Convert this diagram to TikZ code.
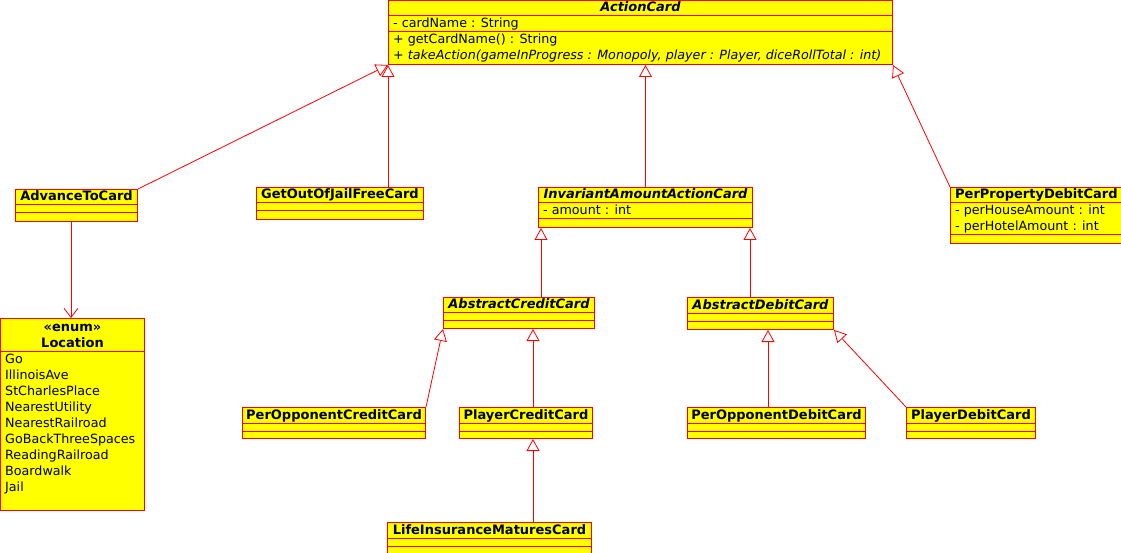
\documentclass[tikz,border=0pt]{standalone}
\usepackage{fontspec}
\setmainfont{DejaVu Sans}
\usetikzlibrary{arrows.meta,calc}
\definecolor{cyel}{RGB}{255,255,0}
\definecolor{cred}{RGB}{255,0,0}
\begin{document}
\begin{tikzpicture}[x=1pt,y=-1pt,
  font=\fontsize{12.7}{16}\selectfont,
  box/.style={draw=cred, fill=cyel, line width=1pt, inner sep=0pt, anchor=north west},
  sepl/.style={draw=cred, line width=1pt},
  ttl/.style={anchor=base, inner sep=0pt, font=\fontsize{13}{16}\selectfont\bfseries},
  attl/.style={anchor=base, inner sep=0pt, font=\fontsize{13}{16}\selectfont\bfseries\itshape},
  txt/.style={anchor=base west, inner sep=0pt},
  inh/.style={draw=cred, line width=0.8pt, -{Triangle[open, length=12pt, width=13pt, fill=white]}},
  assoc/.style={draw=cred, line width=0.8pt, -{Straight Barb[length=9pt, width=14pt]}}
]
\useasboundingbox (0,0) rectangle (1121,553);

% ActionCard
\node[box, minimum width=504pt, minimum height=64pt] (ac) at (388,0) {};
\draw[sepl] ($(ac.north west)+(0,16)$) -- ($(ac.north east)+(0,16)$);
\draw[sepl] ($(ac.north west)+(0,32)$) -- ($(ac.north east)+(0,32)$);
\node[attl] (acT) at ($(ac.north)+(0,12)$) {ActionCard};
\node[txt] (acA) at ($(ac.north west)+(5,28)$) {- cardName : String};
\node[txt] (acM1) at ($(ac.north west)+(5,44)$) {+ getCardName() : String};
\node[txt] (acM2) at ($(ac.north west)+(5,60)$) {\itshape + takeAction(gameInProgress : Monopoly, player : Player, diceRollTotal : int)};

% AdvanceToCard
\node[box, minimum width=122pt, minimum height=32pt] (adv) at (15,189) {};
\draw[sepl] ($(adv.north west)+(0,16)$) -- ($(adv.north east)+(0,16)$);
\draw[sepl] ($(adv.north west)+(0,24)$) -- ($(adv.north east)+(0,24)$);
\node[ttl] (advT) at ($(adv.north)+(0,12)$) {AdvanceToCard};

% GetOutOfJailFreeCard
\node[box, minimum width=167pt, minimum height=32pt] (goj) at (256,187) {};
\draw[sepl] ($(goj.north west)+(0,16)$) -- ($(goj.north east)+(0,16)$);
\draw[sepl] ($(goj.north west)+(0,24)$) -- ($(goj.north east)+(0,24)$);
\node[ttl] (gojT) at ($(goj.north)+(0,12)$) {GetOutOfJailFreeCard};

% InvariantAmountActionCard
\node[box, minimum width=214pt, minimum height=40pt] (inv) at (538,187) {};
\draw[sepl] ($(inv.north west)+(0,16)$) -- ($(inv.north east)+(0,16)$);
\draw[sepl] ($(inv.north west)+(0,32)$) -- ($(inv.north east)+(0,32)$);
\node[attl] (invT) at ($(inv.north)+(0,12)$) {InvariantAmountActionCard};
\node[txt] (invA) at ($(inv.north west)+(5,28)$) {- amount : int};

% PerPropertyDebitCard
\node[box, minimum width=176pt, minimum height=56pt] (ppd) at (950,187) {};
\draw[sepl] ($(ppd.north west)+(0,16)$) -- ($(ppd.north east)+(0,16)$);
\draw[sepl] ($(ppd.north west)+(0,48)$) -- ($(ppd.north east)+(0,48)$);
\node[ttl, anchor=base west] (ppdT) at ($(ppd.north west)+(5,12)$) {PerPropertyDebitCard};
\node[txt] (ppdA1) at ($(ppd.north west)+(5,28)$) {- perHouseAmount : int};
\node[txt] (ppdA2) at ($(ppd.north west)+(5,44)$) {- perHotelAmount : int};

% Location
\node[box, minimum width=144pt, minimum height=192pt] (loc) at (0,318) {};
\draw[sepl] ($(loc.north west)+(0,33)$) -- ($(loc.north east)+(0,33)$);
\node[ttl] (locS) at ($(loc.north)+(0,13)$) {«enum»};
\node[ttl] (locT) at ($(loc.north)+(0,29)$) {Location};
\node[txt] (l1) at ($(loc.north west)+(5,45)$) {Go};
\node[txt] (l2) at ($(loc.north west)+(5,61)$) {IllinoisAve};
\node[txt] (l3) at ($(loc.north west)+(5,77)$) {StCharlesPlace};
\node[txt] (l4) at ($(loc.north west)+(5,93)$) {NearestUtility};
\node[txt] (l5) at ($(loc.north west)+(5,109)$) {NearestRailroad};
\node[txt] (l6) at ($(loc.north west)+(5,125)$) {GoBackThreeSpaces};
\node[txt] (l7) at ($(loc.north west)+(5,141)$) {ReadingRailroad};
\node[txt] (l8) at ($(loc.north west)+(5,157)$) {Boardwalk};
\node[txt] (l9) at ($(loc.north west)+(5,173)$) {Jail};

% AbstractCreditCard
\node[box, minimum width=151pt, minimum height=31pt] (acc) at (443,297) {};
\draw[sepl] ($(acc.north west)+(0,15)$) -- ($(acc.north east)+(0,15)$);
\draw[sepl] ($(acc.north west)+(0,23)$) -- ($(acc.north east)+(0,23)$);
\node[attl] (accT) at ($(acc.north)+(0,11)$) {AbstractCreditCard};

% AbstractDebitCard
\node[box, minimum width=146pt, minimum height=32pt] (adc) at (687,297) {};
\draw[sepl] ($(adc.north west)+(0,16)$) -- ($(adc.north east)+(0,16)$);
\draw[sepl] ($(adc.north west)+(0,24)$) -- ($(adc.north east)+(0,24)$);
\node[attl] (adcT) at ($(adc.north)+(0,12)$) {AbstractDebitCard};

% PerOpponentCreditCard
\node[box, minimum width=183pt, minimum height=31pt] (poc) at (242,407) {};
\draw[sepl] ($(poc.north west)+(0,16)$) -- ($(poc.north east)+(0,16)$);
\draw[sepl] ($(poc.north west)+(0,24)$) -- ($(poc.north east)+(0,24)$);
\node[ttl] (pocT) at ($(poc.north)+(0,12)$) {PerOpponentCreditCard};

% PlayerCreditCard
\node[box, minimum width=133pt, minimum height=31pt] (pcc) at (459,407) {};
\draw[sepl] ($(pcc.north west)+(0,16)$) -- ($(pcc.north east)+(0,16)$);
\draw[sepl] ($(pcc.north west)+(0,24)$) -- ($(pcc.north east)+(0,24)$);
\node[ttl] (pccT) at ($(pcc.north)+(0,12)$) {PlayerCreditCard};

% PerOpponentDebitCard
\node[box, minimum width=178pt, minimum height=31pt] (pod) at (687,407) {};
\draw[sepl] ($(pod.north west)+(0,16)$) -- ($(pod.north east)+(0,16)$);
\draw[sepl] ($(pod.north west)+(0,24)$) -- ($(pod.north east)+(0,24)$);
\node[ttl] (podT) at ($(pod.north)+(0,12)$) {PerOpponentDebitCard};

% PlayerDebitCard
\node[box, minimum width=129pt, minimum height=31pt] (pdc) at (906,407) {};
\draw[sepl] ($(pdc.north west)+(0,16)$) -- ($(pdc.north east)+(0,16)$);
\draw[sepl] ($(pdc.north west)+(0,24)$) -- ($(pdc.north east)+(0,24)$);
\node[ttl] (pdcT) at ($(pdc.north)+(0,12)$) {PlayerDebitCard};

% LifeInsuranceMaturesCard
\node[box, minimum width=204pt, minimum height=40pt] (lic) at (387,522) {};
\draw[sepl] ($(lic.north west)+(0,16)$) -- ($(lic.north east)+(0,16)$);
\draw[sepl] ($(lic.north west)+(0,24)$) -- ($(lic.north east)+(0,24)$);
\node[ttl] (licT) at ($(lic.north)+(0,12)$) {LifeInsuranceMaturesCard};

% connectors
\coordinate (cgoj) at (ac.south west |- goj.north);
\coordinate (cacc) at ($(acc.north west)+(98,0)$);
\coordinate (cadc) at ($(adc.north west)+(63,0)$);
\coordinate (cadv) at ($(adv.south west)+(56,0)$);
\coordinate (cpcc) at ($(pcc.north west)+(74,0)$);
\coordinate (cpod) at ($(pod.north west)+(81,0)$);
\coordinate (clic) at ($(lic.north west)+(146,0)$);

\draw[inh] (adv.north east) -- (ac.south west);
\draw[inh] (cgoj) -- (ac.south west);
\draw[inh] (inv.north) -- (inv.north |- ac.south);
\draw[inh] (ppd.north west) -- (ac.south east);
\draw[assoc] (cadv) -- (cadv |- loc.north);
\draw[inh] (cacc) -- (cacc |- inv.south);
\draw[inh] (cadc) -- (cadc |- inv.south);
\draw[inh] (poc.north east) -- (acc.south west);
\draw[inh] (cpcc) -- (cpcc |- acc.south);
\draw[inh] (cpod) -- (cpod |- adc.south);
\draw[inh] (pdc.north west) -- (adc.south east);
\draw[inh] (clic) -- (clic |- pcc.south);
\end{tikzpicture}
\end{document}
